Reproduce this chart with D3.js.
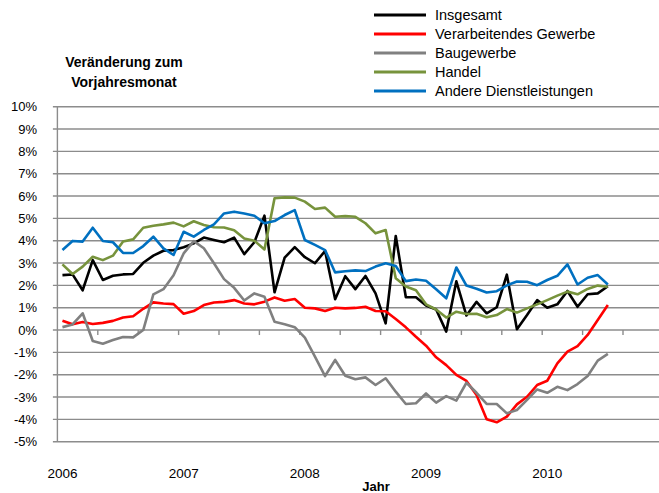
<!DOCTYPE html>
<html>
<head>
<meta charset="utf-8">
<script src="https://cdn.jsdelivr.net/npm/d3@7"></script>
<style>
  body { margin: 0; background: #fff; }
  svg { display: block; font-family: "Liberation Sans", Arial, sans-serif; }
</style>
</head>
<body>
<svg width="659" height="493"></svg>
<script>
// monthly values, Jan 2006 .. Jul 2010 (percent change vs. same month of previous year)
const startMonth = new Date(2006, 0, 1);
const axisMonths = 60; // axis runs through Dec 2010
const yearLabels = ["2006", "2007", "2008", "2009", "2010"];
const yTicks = d3.range(-5, 11);

const insgesamt = [2.46, 2.49, 1.78, 3.13, 2.24, 2.43, 2.49, 2.51, 3.01, 3.33, 3.55, 3.58,
  3.71, 3.88, 4.14, 4.03, 3.93, 4.14, 3.40, 3.93, 5.12, 1.69, 3.24, 3.71, 3.26, 2.99, 3.54,
  1.38, 2.41, 1.83, 2.42, 1.64, 0.30, 4.21, 1.47, 1.47, 1.10, 0.92, -0.07, 2.18, 0.65, 1.26,
  0.75, 1.02, 2.48, 0.04, 0.67, 1.34, 1.00, 1.15, 1.75, 1.04, 1.60, 1.64, 1.96];
const verarbeitendes = [0.42, 0.26, 0.36, 0.27, 0.32, 0.41, 0.56, 0.62, 0.95, 1.24, 1.19, 1.16,
  0.73, 0.85, 1.12, 1.23, 1.26, 1.34, 1.19, 1.15, 1.27, 1.46, 1.31, 1.39, 1.00, 0.97, 0.85,
  1.00, 0.97, 0.99, 1.04, 0.85, 0.84, 0.49, 0.12, -0.30, -0.70, -1.22, -1.57, -2.01, -2.28,
  -2.91, -4.00, -4.13, -3.88, -3.33, -2.99, -2.46, -2.27, -1.49, -0.97, -0.72, -0.22, 0.45, 1.12];
const baugewerbe = [0.13, 0.25, 0.75, -0.49, -0.61, -0.45, -0.31, -0.33, 0.00, 1.60, 1.83, 2.45,
  3.43, 3.98, 3.66, 2.99, 2.28, 1.89, 1.32, 1.64, 1.49, 0.37, 0.26, 0.13, -0.34, -1.19, -2.06,
  -1.34, -2.05, -2.20, -2.12, -2.46, -2.16, -2.76, -3.31, -3.28, -2.84, -3.25, -2.96, -3.16,
  -2.36, -2.81, -3.31, -3.31, -3.73, -3.58, -3.13, -2.66, -2.81, -2.54, -2.69, -2.42, -2.06, -1.37, -1.07];
const handel = [2.94, 2.51, 2.84, 3.28, 3.13, 3.33, 3.96, 4.06, 4.58, 4.67, 4.73, 4.81,
  4.64, 4.87, 4.70, 4.60, 4.59, 4.47, 4.10, 4.00, 3.61, 5.90, 5.94, 5.93, 5.75, 5.42, 5.48,
  5.07, 5.10, 5.07, 4.78, 4.33, 4.48, 2.32, 1.95, 1.78, 1.15, 0.92, 0.56, 0.82, 0.72, 0.73,
  0.57, 0.67, 0.94, 0.78, 0.97, 1.15, 1.34, 1.54, 1.72, 1.60, 1.84, 1.99, 1.94];
const dienstleistungen = [3.58, 3.99, 3.96, 4.58, 3.99, 3.93, 3.45, 3.45, 3.76, 4.18, 3.66, 3.36,
  4.40, 4.18, 4.48, 4.73, 5.22, 5.30, 5.22, 5.12, 4.78, 4.88, 5.15, 5.37, 4.03, 3.81, 3.58,
  2.58, 2.63, 2.67, 2.64, 2.84, 2.99, 2.87, 2.19, 2.26, 2.21, 1.83, 1.42, 2.80, 1.99, 1.85,
  1.68, 1.74, 2.00, 2.17, 2.16, 2.01, 2.24, 2.43, 2.94, 2.04, 2.34, 2.46, 2.04];

const seriesNames = ["Insgesamt", "Verarbeitendes Gewerbe", "Baugewerbe", "Handel", "Andere Dienstleistungen"];
const seriesValues = [insgesamt, verarbeitendes, baugewerbe, handel, dienstleistungen];
const seriesColours = ["#000000", "#ff0000", "#808080", "#77933c", "#0070c0"];

const svg = d3.select("svg");
const plotLeft = 57.4, plotTop = 106.7, plotBottom = 441.7, plotRight = 659;

const months = d3.timeMonth.range(startMonth, d3.timeMonth.offset(startMonth, axisMonths));
const x = d3.scaleBand()
  .domain(months)
  .range([plotLeft, plotLeft + axisMonths * 10.1])
  .padding(0);
const xc = d => x(d) + x.bandwidth() / 2;

const y = d3.scaleLinear().domain([-5, 10]).range([plotBottom, plotTop]);

// gridlines
svg.append("g")
  .selectAll("line")
  .data(yTicks)
  .enter().append("line")
  .attr("x1", plotLeft - 4.5)
  .attr("x2", plotRight)
  .attr("y1", d => y(d))
  .attr("y2", d => y(d))
  .attr("stroke", "#8c8c8c")
  .attr("stroke-width", 1.4);

// y axis line
svg.append("line")
  .attr("x1", plotLeft).attr("x2", plotLeft)
  .attr("y1", plotTop).attr("y2", plotBottom)
  .attr("stroke", "#8c8c8c")
  .attr("stroke-width", 1.4);

svg.append("g")
  .selectAll("text")
  .data(yTicks)
  .enter().append("text")
  .attr("x", 37)
  .attr("y", d => y(d))
  .attr("dy", "0.35em")
  .attr("text-anchor", "end")
  .style("font-size", "13px")
  .text(d => d + "%");

// x axis ticks (every 4 months, on the 0% line)
svg.append("g")
  .selectAll("line")
  .data(months.filter((d, i) => i % 4 === 0 && i > 0))
  .enter().append("line")
  .attr("x1", d => x(d)).attr("x2", d => x(d))
  .attr("y1", y(0)).attr("y2", y(0) + 5)
  .attr("stroke", "#8c8c8c")
  .attr("stroke-width", 1.4);

svg.append("g")
  .selectAll("text")
  .data(yearLabels)
  .enter().append("text")
  .attr("x", d => xc(months[(+d - 2006) * 12]))
  .attr("y", 473)
  .attr("dy", "0.35em")
  .attr("text-anchor", "middle")
  .style("font-size", "13.5px")
  .text(d => d);

svg.append("text")
  .attr("x", 376)
  .attr("y", 486)
  .attr("dy", "0.35em")
  .attr("text-anchor", "middle")
  .style("font-size", "13px")
  .style("font-weight", "bold")
  .text("Jahr");

// axis title
svg.append("text")
  .attr("text-anchor", "middle")
  .style("font-size", "14px")
  .style("font-weight", "bold")
  .selectAll("tspan")
  .data(["Veränderung zum", "Vorjahresmonat"])
  .enter().append("tspan")
  .attr("x", 124)
  .attr("y", (d, i) => 67 + i * 20)
  .text(d => d);

// series lines, drawn in legend order (last one on top)
const line = d3.line()
  .x((d, i) => xc(months[i]))
  .y(d => y(d));

svg.append("g")
  .attr("fill", "none")
  .attr("stroke-width", 2.6)
  .attr("stroke-linejoin", "round")
  .selectAll("path")
  .data(seriesValues.map((v, i) => ({ values: v, colour: seriesColours[i] })))
  .enter().append("path")
  .attr("stroke", d => d.colour)
  .attr("d", d => line(d.values));

// legend
const legend = svg.append("g")
  .selectAll("g")
  .data(seriesNames)
  .enter().append("g")
  .attr("transform", (d, i) => "translate(374," + (15 + i * 19) + ")");

legend.append("line")
  .attr("x1", 0).attr("x2", 52)
  .attr("stroke", (d, i) => seriesColours[i])
  .attr("stroke-width", 3);

legend.append("text")
  .attr("x", 61)
  .attr("dy", "0.35em")
  .style("font-size", "14.5px")
  .text(d => d);
</script>
</body>
</html>
